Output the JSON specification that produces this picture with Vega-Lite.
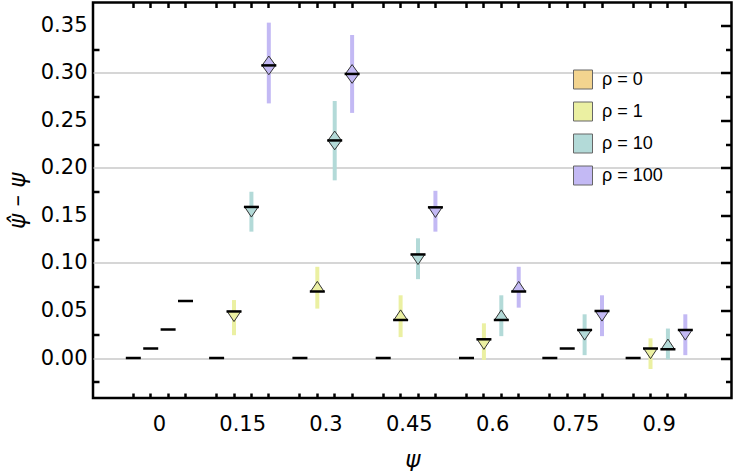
{
  "$schema": "https://vega.github.io/schema/vega-lite/v6.json",
  "width": 638.5,
  "height": 395.5,
  "autosize": {"type": "none"},
  "padding": {"left": 93, "top": 2.5, "right": 5.5, "bottom": 73},
  "background": "white",
  "config": {
    "view": {"stroke": "black", "strokeWidth": 2.5},
    "font": "DejaVu Sans",
    "axis": {"domain": false, "grid": false, "labelFont": "DejaVu Sans", "labelFontSize": 21, "labelColor": "black", "tickColor": "black", "tickWidth": 2.5, "title": null, "titleFont": "DejaVu Sans", "titleColor": "black", "titleFontWeight": "normal"}
  },
  "data": {"values": [
    {"psi": 0, "rho": 0, "est": 0, "lo": null, "hi": null, "sign": "none"},
    {"psi": 0, "rho": 1, "est": 0.01, "lo": null, "hi": null, "sign": "none"},
    {"psi": 0, "rho": 10, "est": 0.03, "lo": null, "hi": null, "sign": "none"},
    {"psi": 0, "rho": 100, "est": 0.06, "lo": null, "hi": null, "sign": "none"},
    {"psi": 0.15, "rho": 0, "est": 0, "lo": null, "hi": null, "sign": "none"},
    {"psi": 0.15, "rho": 1, "est": 0.049, "lo": 0.024, "hi": 0.061, "sign": "down"},
    {"psi": 0.15, "rho": 10, "est": 0.159, "lo": 0.133, "hi": 0.175, "sign": "down"},
    {"psi": 0.15, "rho": 100, "est": 0.308, "lo": 0.268, "hi": 0.353, "sign": "both"},
    {"psi": 0.3, "rho": 0, "est": 0, "lo": null, "hi": null, "sign": "none"},
    {"psi": 0.3, "rho": 1, "est": 0.070, "lo": 0.052, "hi": 0.096, "sign": "up"},
    {"psi": 0.3, "rho": 10, "est": 0.229, "lo": 0.187, "hi": 0.2705, "sign": "both"},
    {"psi": 0.3, "rho": 100, "est": 0.299, "lo": 0.258, "hi": 0.340, "sign": "both"},
    {"psi": 0.45, "rho": 0, "est": 0, "lo": null, "hi": null, "sign": "none"},
    {"psi": 0.45, "rho": 1, "est": 0.040, "lo": 0.022, "hi": 0.066, "sign": "up"},
    {"psi": 0.45, "rho": 10, "est": 0.109, "lo": 0.083, "hi": 0.126, "sign": "down"},
    {"psi": 0.45, "rho": 100, "est": 0.1586, "lo": 0.133, "hi": 0.176, "sign": "down"},
    {"psi": 0.6, "rho": 0, "est": 0, "lo": null, "hi": null, "sign": "none"},
    {"psi": 0.6, "rho": 1, "est": 0.0197, "lo": -0.002, "hi": 0.0365, "sign": "down"},
    {"psi": 0.6, "rho": 10, "est": 0.040, "lo": 0.023, "hi": 0.066, "sign": "up"},
    {"psi": 0.6, "rho": 100, "est": 0.070, "lo": 0.053, "hi": 0.096, "sign": "up"},
    {"psi": 0.75, "rho": 0, "est": 0, "lo": null, "hi": null, "sign": "none"},
    {"psi": 0.75, "rho": 1, "est": 0.010, "lo": null, "hi": null, "sign": "none"},
    {"psi": 0.75, "rho": 10, "est": 0.0295, "lo": 0.003, "hi": 0.046, "sign": "down"},
    {"psi": 0.75, "rho": 100, "est": 0.0495, "lo": 0.023, "hi": 0.066, "sign": "down"},
    {"psi": 0.9, "rho": 0, "est": 0, "lo": null, "hi": null, "sign": "none"},
    {"psi": 0.9, "rho": 1, "est": 0.010, "lo": -0.0116, "hi": 0.0207, "sign": "down"},
    {"psi": 0.9, "rho": 10, "est": 0.0092, "lo": -0.0014, "hi": 0.031, "sign": "up"},
    {"psi": 0.9, "rho": 100, "est": 0.0295, "lo": 0.003, "hi": 0.046, "sign": "down"}
  ]},
  "layer": [
    {
      "transform": [{"filter": "isValid(datum.lo)"}],
      "mark": {"type": "rule", "strokeWidth": 4},
      "encoding": {
        "x": {"field": "psi", "type": "ordinal", "scale": {"type": "band", "paddingInner": 0, "paddingOuter": 0.3325, "align": 0.447}, "axis": {"orient": "bottom", "bandPosition": 0.1867, "labels": false, "tickSize": -5, "title": null}},
        "xOffset": {"field": "rho", "type": "ordinal", "scale": {"type": "point", "padding": 0.894, "domain": [0, 1, 10, 100]}},
        "y": {"field": "lo", "type": "quantitative", "scale": {"domain": [-0.0421, 0.3742], "nice": false, "zero": false}, "axis": {"orient": "left", "values": [0, 0.05, 0.1, 0.15, 0.2, 0.25, 0.3, 0.35], "format": ".2f", "ticks": false, "labelPadding": 6, "labelFontSize": 21, "title": "ψ̂ – ψ", "titleFontSize": 23, "titleFontStyle": "italic", "titlePadding": 11}},
        "y2": {"field": "hi"},
        "stroke": {"field": "rho", "type": "ordinal", "scale": {"domain": [1, 10, 100], "range": ["#ebf0a2", "#b3dad8", "#c3b9f4"]}, "legend": null}
      }
    },
    {
      "transform": [{"filter": "datum.sign != 'none'"}],
      "mark": {"type": "point", "filled": true, "opacity": 1, "stroke": "#333333", "strokeWidth": 1, "size": 225},
      "encoding": {
        "x": {"field": "psi", "type": "ordinal", "axis": {"orient": "bottom", "bandPosition": 0.3957, "labels": false, "tickSize": -5, "title": null}},
        "xOffset": {"field": "rho", "type": "ordinal"},
        "y": {"field": "est", "type": "quantitative", "axis": {"orient": "left", "values": [-0.025, 0.025, 0.075, 0.125, 0.175, 0.225, 0.275, 0.325], "labels": false, "tickSize": -6, "title": null}},
        "fill": {"field": "rho", "type": "ordinal", "scale": {"domain": [0, 1, 10, 100], "range": ["#f3d48f", "#ebf0a2", "#b3dad8", "#c3b9f4"]}, "legend": {"orient": "none", "legendX": 480, "legendY": 67, "title": null, "symbolType": "square", "symbolSize": 361, "symbolStrokeColor": "#666666", "symbolStrokeWidth": 1, "symbolOpacity": 1, "labelExpr": "'ρ = ' + datum.label", "labelFontSize": 18, "labelFont": "Liberation Sans", "labelColor": "black", "rowPadding": 8, "labelOffset": 9}},
        "shape": {"field": "sign", "type": "nominal", "scale": {"domain": ["up", "down", "both"], "range": ["M-0.9,0L0.9,0L0,-1.35Z", "M-0.9,0L0.9,0L0,1.35Z", "M0,-1.25L0.9,0L0,1.25L-0.9,0Z"]}, "legend": null}
      }
    },
    {
      "mark": {"type": "point", "shape": "stroke", "filled": false, "stroke": "black", "strokeWidth": 2.5, "size": 225, "opacity": 1},
      "encoding": {
        "x": {"field": "psi", "type": "ordinal", "axis": {"orient": "bottom", "bandPosition": 0.6046, "labels": false, "tickSize": -5, "title": null}},
        "xOffset": {"field": "rho", "type": "ordinal"},
        "y": {"field": "est", "type": "quantitative", "axis": {"orient": "right", "values": [0, 0.05, 0.1, 0.15, 0.2, 0.25, 0.3, 0.35], "labels": false, "tickSize": -11, "title": null}}
      }
    },
    {
      "mark": {"type": "point", "opacity": 0},
      "encoding": {
        "x": {"field": "psi", "type": "ordinal", "axis": {"orient": "bottom", "bandPosition": 0.8135, "labels": false, "tickSize": -5, "title": null}},
        "xOffset": {"field": "rho", "type": "ordinal"},
        "y": {"field": "est", "type": "quantitative", "axis": {"orient": "right", "values": [-0.025, 0.025, 0.075, 0.125, 0.175, 0.225, 0.275, 0.325], "labels": false, "tickSize": -6, "title": null}}
      }
    },
    {
      "mark": {"type": "point", "opacity": 0},
      "encoding": {
        "x": {"field": "psi", "type": "ordinal", "axis": {"orient": "bottom", "bandPosition": 0.5, "ticks": false, "labelPadding": 15, "labelFontSize": 21, "labelAngle": 0, "title": "ψ", "titleFontSize": 23, "titleFontStyle": "italic", "titlePadding": 14}},
        "xOffset": {"field": "rho", "type": "ordinal"},
        "y": {"field": "est", "type": "quantitative", "axis": {"orient": "left", "values": [0, 0.1, 0.2, 0.3], "grid": true, "gridColor": "#c8c8c8", "gridWidth": 1.5, "ticks": false, "labels": false, "title": null}}
      }
    },
    {
      "mark": {"type": "point", "opacity": 0},
      "encoding": {
        "x": {"field": "psi", "type": "ordinal", "axis": {"orient": "top", "bandPosition": 0.1867, "labels": false, "tickSize": -5, "title": null}},
        "xOffset": {"field": "rho", "type": "ordinal"},
        "y": {"field": "est", "type": "quantitative", "axis": null}
      }
    },
    {
      "mark": {"type": "point", "opacity": 0},
      "encoding": {
        "x": {"field": "psi", "type": "ordinal", "axis": {"orient": "top", "bandPosition": 0.3957, "labels": false, "tickSize": -5, "title": null}},
        "xOffset": {"field": "rho", "type": "ordinal"},
        "y": {"field": "est", "type": "quantitative", "axis": null}
      }
    },
    {
      "mark": {"type": "point", "opacity": 0},
      "encoding": {
        "x": {"field": "psi", "type": "ordinal", "axis": {"orient": "top", "bandPosition": 0.6046, "labels": false, "tickSize": -5, "title": null}},
        "xOffset": {"field": "rho", "type": "ordinal"},
        "y": {"field": "est", "type": "quantitative", "axis": null}
      }
    },
    {
      "mark": {"type": "point", "opacity": 0},
      "encoding": {
        "x": {"field": "psi", "type": "ordinal", "axis": {"orient": "top", "bandPosition": 0.8135, "labels": false, "tickSize": -5, "title": null}},
        "xOffset": {"field": "rho", "type": "ordinal"},
        "y": {"field": "est", "type": "quantitative", "axis": null}
      }
    }
  ],
  "resolve": {"axis": {"x": "independent", "y": "independent"}}
}
